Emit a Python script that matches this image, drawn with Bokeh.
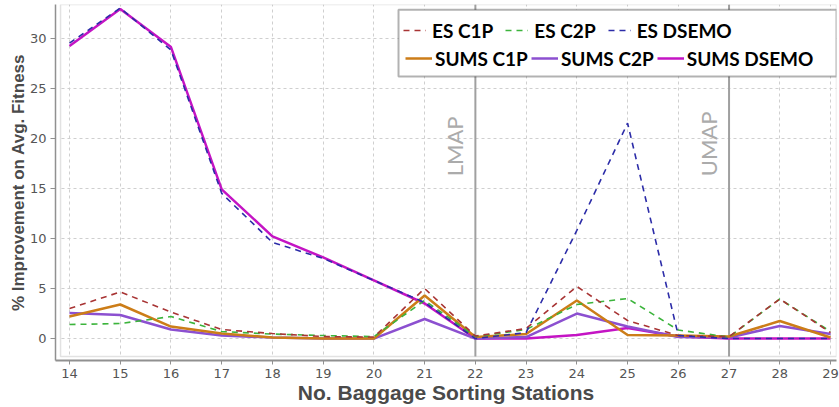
from math import pi
from bokeh.plotting import figure
from bokeh.models import (Range1d, Span, Label, BoxAnnotation, Legend, LegendItem,
                          FixedTicker)
from bokeh.embed import file_html
from bokeh.resources import INLINE

# ---------------- data ----------------
stations = [14, 15, 16, 17, 18, 19, 20, 21, 22, 23, 24, 25, 26, 27, 28, 29]
es_c1p = [3.0, 4.65, 2.65, 0.9, 0.5, 0.2, 0.15, 5.0, 0.25, 1.0, 5.2, 1.8, 0.3, 0.2, 3.95, 0.6]
es_c2p = [1.4, 1.5, 2.2, 0.7, 0.45, 0.3, 0.2, 3.8, 0.2, 0.9, 3.4, 4.0, 0.85, 0.15, 3.95, 0.7]
es_dsemo = [29.5, 33.0, 28.8, 14.5, 9.6, 8.0, 5.8, 3.6, 0.0, 0.6, 10.8, 21.5, 0.3, 0.0, 0.0, 0.0]
sums_c1p = [2.2, 3.4, 1.2, 0.5, 0.1, 0.0, 0.0, 4.3, 0.15, 0.45, 3.8, 0.35, 0.3, 0.2, 1.75, 0.1]
sums_c2p = [2.55, 2.35, 0.9, 0.3, 0.1, 0.0, 0.0, 1.95, 0.0, 0.15, 2.5, 1.2, 0.15, 0.1, 1.25, 0.45]
sums_dsemo = [29.2, 32.9, 29.1, 14.9, 10.2, 8.1, 5.8, 3.5, 0.0, 0.0, 0.35, 1.05, 0.2, 0.0, 0.0, 0.0]
x_ticks = [14, 15, 16, 17, 18, 19, 20, 21, 22, 23, 24, 25, 26, 27, 28, 29]
y_ticks = [0, 5, 10, 15, 20, 25, 30]
markers = [(22, "LMAP"), (27, "UMAP")]

# ---------------- figure ----------------
x0, x1 = 13.724, 29.118
y0, y1 = -2.19, 33.35
inner_left, inner_bottom = 13.823, -1.797

p = figure(width=839, height=407, output_backend="svg", toolbar_location=None,
           x_range=Range1d(x0, x1), y_range=Range1d(y0, y1),
           min_border_left=55, min_border_right=3, min_border_top=4,
           min_border_bottom=47)
p.outline_line_color = None
p.background_fill_color = "white"

# grid
for g in (p.xgrid, p.ygrid):
    g.grid_line_color = "#cfcfcf"
    g.grid_line_dash = "3 3"
    g.grid_line_width = 1
p.xaxis.ticker = FixedTicker(ticks=x_ticks)
p.yaxis.ticker = FixedTicker(ticks=y_ticks)

# vertical markers
for xv, txt in markers:
    p.add_layout(Span(location=xv, dimension="height", line_color="#a0a0a0",
                      line_width=2, level="underlay"))
    p.add_layout(Label(x=xv, y=16.2, text=txt, angle=pi / 2, x_offset=-21,
                       text_font="Lato", text_font_size="22px", text_color="#ababab",
                       text_align="left", text_baseline="alphabetic"))

# white strips between the inner frame and the axes
p.add_layout(BoxAnnotation(right=inner_left, fill_color="white", fill_alpha=1,
                           line_color=None, level="underlay"))
p.add_layout(BoxAnnotation(top=inner_bottom, fill_color="white", fill_alpha=1,
                           line_color=None, level="underlay"))
# inner frame border
p.add_layout(BoxAnnotation(left=inner_left, bottom=inner_bottom, fill_alpha=0,
                           line_color="#a0a0a0", line_width=1.5, level="underlay"))

# ---------------- lines ----------------
r_sd = p.line(stations, sums_dsemo, line_color="#c414c4", line_width=2.5)
r_s2 = p.line(stations, sums_c2p, line_color="#8c50d0", line_width=2.5)
r_s1 = p.line(stations, sums_c1p, line_color="#cc7d18", line_width=2.5)
r_e2 = p.line(stations, es_c2p, line_color="#3cb43c", line_width=1.6, line_dash="6 5")
r_e1 = p.line(stations, es_c1p, line_color="#a83434", line_width=1.6, line_dash="6 5")
r_ed = p.line(stations, es_dsemo, line_color="#2c2ca8", line_width=1.6, line_dash="6 5")

# ---------------- axes ----------------
for ax in (p.xaxis, p.yaxis):
    ax.major_label_text_font = "DejaVu Sans"
    ax.major_label_text_font_size = "13px"
    ax.major_label_text_color = "#555555"
    ax.axis_label_text_font = "Liberation Sans"
    ax.axis_label_text_font_style = "bold"
    ax.axis_label_text_color = "#4a4a4a"
    ax.minor_tick_line_color = None
    ax.major_tick_in = 0
    ax.axis_line_color = "#909090"
    ax.major_tick_line_color = "#909090"
p.xaxis.axis_line_width = 2
p.yaxis.axis_line_width = 1.5
p.xaxis.major_tick_out = 4
p.yaxis.major_tick_out = 5
p.xaxis.major_label_standoff = 4
p.yaxis.major_label_standoff = 4
p.xaxis.axis_label = "No. Baggage Sorting Stations"
p.yaxis.axis_label = "% Improvement on Avg. Fitness"
p.xaxis.axis_label_text_font_size = "21px"
p.yaxis.axis_label_text_font_size = "17px"
p.xaxis.axis_label_standoff = 0
p.yaxis.axis_label_standoff = -1

# ---------------- legend ----------------
p.add_layout(BoxAnnotation(left=20.485, top=32.82, bottom=26.15, fill_color="white",
                           fill_alpha=1, line_color="black", line_width=2))

def make_legend(items, loc, spacing, standoff, glyph_w):
    return Legend(items=items, orientation="horizontal", location=loc,
                  border_line_color=None, background_fill_alpha=0, padding=0,
                  margin=0, spacing=spacing, glyph_width=glyph_w, glyph_height=20,
                  label_standoff=standoff, label_height=28, label_text_font="Lato",
                  label_text_font_style="bold", label_text_font_size="19px",
                  label_text_color="black")

leg1 = make_legend([LegendItem(label="ES C1P", renderers=[r_e1]),
                    LegendItem(label="ES C2P", renderers=[r_e2]),
                    LegendItem(label="ES DSEMO", renderers=[r_ed])], (348, 316), 12, 6, 23)
leg2 = make_legend([LegendItem(label="SUMS C1P", renderers=[r_s1]),
                    LegendItem(label="SUMS C2P", renderers=[r_s2]),
                    LegendItem(label="SUMS DSEMO", renderers=[r_sd])], (350, 288), 3, 3, 27)
p.add_layout(leg1)
p.add_layout(leg2)

open("out.html", "w").write(file_html(p, INLINE))
